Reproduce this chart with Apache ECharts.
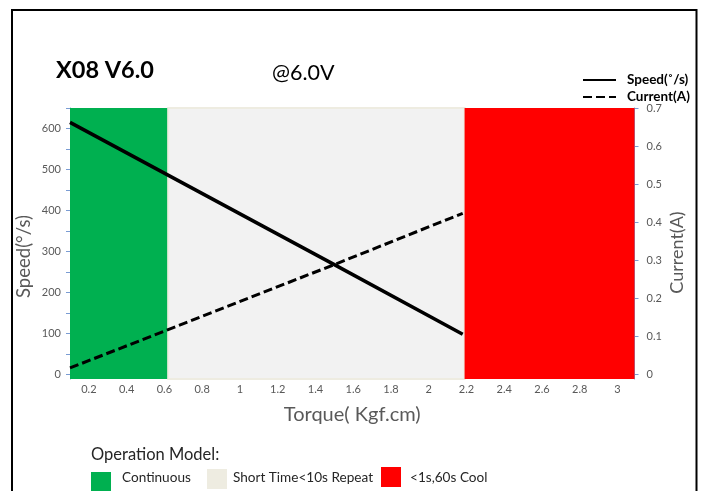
<!DOCTYPE html>
<html>
<head>
<meta charset="utf-8">
<script src="https://cdn.jsdelivr.net/npm/echarts@6/dist/echarts.min.js"></script>
<style>
  html, body { margin: 0; padding: 0; background: #fff; }
  #main { width: 703px; height: 491px; }
</style>
</head>
<body>
<div id="main"></div>
<script>
// 数据
var torque = [0.1, 1.5, 2.18];
var speed = [615, 268, 98];
var current = [0.016, 0.288, 0.423];

// 工作区间
var zoneNames = ['Continuous', 'Short Time<10s Repeat', '<1s,60s Cool'];
var zoneStart = [0.1, 0.62, 2.19];
var zoneEnd = [0.62, 2.19, 3.09];
var zoneColors = ['#00b050', '#f2f2f2', '#ff0000'];
var zoneKeyColors = ['#00b050', '#eeece1', '#ff0000'];

// 刻度
var xLabels = [0.2, 0.4, 0.6, 0.8, 1, 1.2, 1.4, 1.6, 1.8, 2, 2.2, 2.4, 2.6, 2.8, 3];
var speedTicks = [0, 50, 100, 150, 200, 250, 300, 350, 400, 450, 500, 550, 600, 650];
var speedLabels = [0, 100, 200, 300, 400, 500, 600];
var currentTicks = [0, 0.1, 0.2, 0.3, 0.4, 0.5, 0.6, 0.7];

var font = 'Lato, "Noto Sans", sans-serif';
var axisBlue = '#7a9cd3';
var labelGray = '#595959';

var myChart = echarts.init(document.getElementById('main'));

var zoneData = [];
for (var i = 0; i < zoneStart.length; i++) {
    zoneData.push([zoneStart[i], zoneEnd[i], i]);
}

// 底部图例
var keyX = [91, 207, 381];
var keyY = [472, 469, 467];
var keyTextX = [122, 233, 410];
var graphics = [
    {
        type: 'rect', z: 100, silent: true,
        shape: { x: 12, y: 10, width: 684.5, height: 520 },
        style: { fill: 'none', stroke: '#000', lineWidth: 2 }
    },
    {
        type: 'text', left: 91, top: 446,
        style: { text: 'Operation Model:', font: '16.5px ' + font, fill: '#262626' }
    }
];
for (var k = 0; k < zoneNames.length; k++) {
    graphics.push({
        type: 'rect',
        shape: { x: keyX[k], y: keyY[k], width: 20, height: 20 },
        style: { fill: zoneKeyColors[k] }
    });
    graphics.push({
        type: 'text', left: keyTextX[k], top: 471,
        style: { text: zoneNames[k], font: '13.6px ' + font, fill: '#262626' }
    });
}

var option = {
    animation: false,
    title: [
        {
            text: 'X08 V6.0', left: 51, top: 53,
            textStyle: { fontFamily: font, fontSize: 23.5, fontWeight: 'bold', color: '#000' }
        },
        {
            text: '@6.0V', left: 267, top: 57,
            textStyle: { fontFamily: font, fontSize: 21.5, fontWeight: 'normal', color: '#000' }
        }
    ],
    legend: {
        orient: 'vertical',
        left: 577,
        top: 68,
        itemWidth: 33,
        itemHeight: 12,
        itemGap: 3,
        itemStyle: { opacity: 0 },
        textStyle: { fontFamily: font, fontSize: 13.5, fontWeight: 'bold', color: '#000', padding: [0, 0, 0, 6] },
        data: ['Speed(˚/s)', 'Current(A)']
    },
    grid: { left: 70, right: 68.5, top: 108, bottom: 112 },
    xAxis: {
        type: 'value',
        min: 0.1,
        max: 3.09,
        name: 'Torque( Kgf.cm)',
        nameLocation: 'middle',
        nameGap: 26,
        nameTextStyle: { fontFamily: font, fontSize: 20, color: labelGray },
        axisLine: { show: false },
        axisTick: { show: false },
        splitLine: { show: false },
        axisLabel: { customValues: xLabels, color: labelGray, fontFamily: font, fontSize: 11, margin: 5 }
    },
    yAxis: [
        {
            type: 'value',
            min: -11,
            max: 650,
            name: 'Speed(°/s)',
            nameLocation: 'middle',
            nameRotate: 90,
            nameGap: 36,
            nameMoveOverlap: false,
            nameTextStyle: { fontFamily: font, fontSize: 18.5, color: labelGray, padding: [0, 26, 0, 0] },
            axisLine: { show: true, lineStyle: { color: axisBlue, width: 1 } },
            axisTick: { show: true, customValues: speedTicks, length: 4, lineStyle: { color: axisBlue } },
            splitLine: { show: false },
            axisLabel: { customValues: speedLabels, color: labelGray, fontFamily: font, fontSize: 11, margin: 9 }
        },
        {
            type: 'value',
            min: -0.013,
            max: 0.7,
            position: 'right',
            name: 'Current(A)',
            nameLocation: 'middle',
            nameRotate: 90,
            nameGap: 34,
            nameMoveOverlap: false,
            nameTextStyle: { fontFamily: font, fontSize: 18, color: labelGray, padding: [0, 18, 0, 0] },
            axisLine: { show: true, lineStyle: { color: axisBlue, width: 1 } },
            axisTick: { show: true, customValues: currentTicks, length: 4, lineStyle: { color: axisBlue } },
            splitLine: { show: false },
            axisLabel: { customValues: currentTicks, color: labelGray, fontFamily: font, fontSize: 11, margin: 12 }
        }
    ],
    series: [
        {
            name: 'zones',
            type: 'custom',
            silent: true,
            z: 1,
            xAxisIndex: 0,
            yAxisIndex: 0,
            encode: { x: [0, 1] },
            data: zoneData,
            renderItem: function (params, api) {
                var cs = params.coordSys;
                var p0 = api.coord([api.value(0), 0]);
                var p1 = api.coord([api.value(1), 0]);
                var idx = api.value(2);
                var style = { fill: zoneColors[idx] };
                if (idx === 1) {
                    style.stroke = '#eeece1';
                    style.lineWidth = 2;
                }
                return {
                    type: 'rect',
                    shape: { x: p0[0], y: cs.y, width: p1[0] - p0[0], height: cs.height },
                    style: style
                };
            }
        },
        {
            name: 'Speed(˚/s)',
            type: 'line',
            z: 5,
            yAxisIndex: 0,
            symbol: 'none',
            lineStyle: { color: '#000', width: 3.5 },
            itemStyle: { color: '#000' },
            data: torque.map(function (t, i) { return [t, speed[i]]; })
        },
        {
            name: 'Current(A)',
            type: 'line',
            z: 5,
            yAxisIndex: 1,
            symbol: 'none',
            lineStyle: { color: '#000', width: 3, type: [9, 4] },
            itemStyle: { color: '#000' },
            data: torque.map(function (t, i) { return [t, current[i]]; })
        }
    ],
    graphic: graphics
};

myChart.setOption(option);
</script>
</body>
</html>
